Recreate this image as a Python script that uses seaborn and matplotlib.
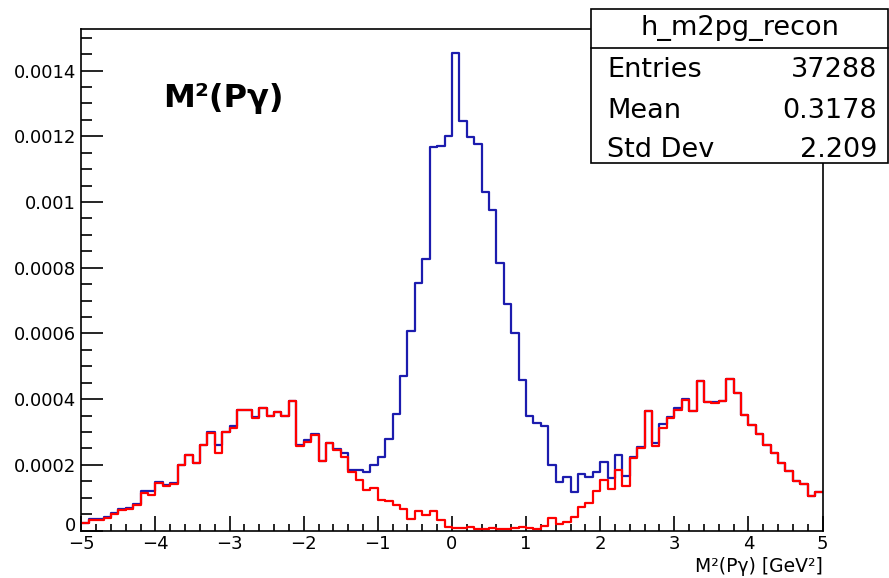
import matplotlib.pyplot as plt
import numpy as np
import pandas as pd
import seaborn as sns
from matplotlib.lines import Line2D
from matplotlib.patches import Rectangle
from matplotlib.ticker import MultipleLocator

# histograma M^2(P gamma): 100 bins de -5 a 5, valores em unidades de 1e-4
x_min, x_max, n_bins = -5.0, 5.0, 100

recon_total = [
    0.24, 0.35, 0.35, 0.41, 0.53, 0.67, 0.70, 0.81, 1.19, 1.19,
    1.49, 1.39, 1.45, 2.00, 2.29, 2.07, 2.60, 3.00, 2.60, 3.00,
    3.18, 3.66, 3.66, 3.47, 3.73, 3.48, 3.60, 3.48, 3.95, 2.60,
    2.77, 2.95, 2.12, 2.67, 2.48, 2.37, 1.83, 1.83, 1.77, 2.01,
    2.25, 2.79, 3.54, 4.72, 6.08, 7.53, 8.26, 11.66, 11.71, 12.01,
    14.53, 12.48, 11.99, 11.76, 10.30, 9.76, 8.14, 6.89, 6.00, 4.58,
    3.50, 3.28, 3.18, 2.00, 1.49, 1.62, 1.18, 1.72, 1.62, 1.77,
    2.08, 1.60, 2.30, 1.65, 2.24, 2.54, 3.65, 2.68, 3.24, 3.47,
    3.72, 4.00, 3.65, 4.55, 3.92, 3.92, 3.95, 4.60, 4.18, 3.52,
    3.21, 2.94, 2.60, 2.37, 2.07, 1.82, 1.52, 1.42, 1.05, 1.18,
]

recon_bkg = [
    0.24, 0.32, 0.33, 0.37, 0.50, 0.63, 0.67, 0.77, 1.13, 1.07,
    1.45, 1.35, 1.42, 2.00, 2.29, 2.07, 2.60, 2.96, 2.36, 3.00,
    3.12, 3.66, 3.66, 3.42, 3.73, 3.48, 3.60, 3.48, 3.95, 2.58,
    2.70, 2.91, 2.11, 2.67, 2.44, 2.25, 1.78, 1.53, 1.25, 1.29,
    0.92, 0.90, 0.78, 0.65, 0.36, 0.60, 0.48, 0.60, 0.32, 0.12,
    0.07, 0.07, 0.10, 0.05, 0.05, 0.07, 0.05, 0.05, 0.07, 0.12,
    0.07, 0.05, 0.14, 0.37, 0.19, 0.25, 0.42, 0.72, 0.83, 1.20,
    1.54, 1.27, 1.84, 1.35, 2.20, 2.52, 3.63, 2.58, 3.13, 3.42,
    3.68, 3.96, 3.65, 4.55, 3.92, 3.87, 3.95, 4.60, 4.18, 3.52,
    3.21, 2.94, 2.60, 2.37, 2.07, 1.82, 1.52, 1.42, 1.05, 1.18,
]

stats_nome = "h_m2pg_recon"
stats_rotulos = ["Entries", "Mean", "Std Dev"]
stats_valores = ["37288", "0.3178", "2.209"]

largura = (x_max - x_min) / n_bins
centros = x_min + largura * (np.arange(n_bins) + 0.5)
df = pd.DataFrame({
    "m2": centros,
    "total": np.array(recon_total) * 1e-4,
    "bkg": np.array(recon_bkg) * 1e-4,
})

sns.set_style("white")
plt.rcParams["font.family"] = ["DejaVu Sans"]
plt.rcParams["text.color"] = "black"
plt.rcParams["xtick.color"] = "black"
plt.rcParams["ytick.color"] = "black"
plt.rcParams["axes.labelcolor"] = "black"

fig = plt.figure(figsize=(8.89, 5.78), dpi=100)
ax = fig.add_axes([0.0915, 0.082, 0.8337, 0.867])

sns.histplot(data=df, x="m2", weights="total", bins=n_bins, binrange=(x_min, x_max),
             element="step", fill=False, color="#1c1cae", linewidth=1.6, ax=ax)
sns.histplot(data=df, x="m2", weights="bkg", bins=n_bins, binrange=(x_min, x_max),
             element="step", fill=False, color="#ff0000", linewidth=1.6, ax=ax)

ax.set_xlim(x_min, x_max)
ax.set_ylim(0, 0.001525)
ax.set_ylabel("")
ax.set_xlabel("M²(Pγ) [GeV²]", loc="right", fontsize=13.5, labelpad=3)

# estilo ROOT: ticks para dentro, so embaixo e na esquerda
ax.xaxis.set_major_locator(MultipleLocator(1))
ax.xaxis.set_minor_locator(MultipleLocator(0.2))
ax.yaxis.set_major_locator(MultipleLocator(0.0002))
ax.yaxis.set_minor_locator(MultipleLocator(0.00005))
# o "0" do eixo y vai a parte, um pouco acima, como no ROOT
ax.yaxis.set_major_formatter(plt.FuncFormatter(lambda v, p: "" if abs(v) < 1e-9 else f"{v:.4f}".rstrip("0")))
ax.annotate("0", xy=(0, 0), xycoords="axes fraction", xytext=(-4, 3),
            textcoords="offset points", ha="right", va="center", fontsize=13)
ax.tick_params(axis="both", which="both", direction="in", bottom=True, left=True,
               top=False, right=False, width=1.2, colors="black")
ax.tick_params(axis="x", which="major", length=10.8, labelsize=13, pad=3)
ax.tick_params(axis="x", which="minor", length=5.4)
ax.tick_params(axis="y", which="major", length=15.8, labelsize=13, pad=4)
ax.tick_params(axis="y", which="minor", length=7.9)
for sp in ax.spines.values():
    sp.set_linewidth(1.2)
    sp.set_color("black")

fig.text(0.1834, 0.8149, "M²(Pγ)", fontsize=23, weight="bold", va="baseline")

# caixa de estatisticas
fig.add_artist(Rectangle((0.6648, 0.7175), 0.334, 0.2664, transform=fig.transFigure,
                         facecolor="white", edgecolor="black", linewidth=1.2, zorder=10))
fig.add_artist(Line2D([0.6648, 0.9988], [0.9175, 0.9175], transform=fig.transFigure,
                      color="black", linewidth=1.2, zorder=11))
fig.text(0.832, 0.9394, stats_nome, fontsize=19.5, ha="center", va="baseline", zorder=12)
for i, (rot, val) in enumerate(zip(stats_rotulos, stats_valores)):
    yy = [0.8668, 0.7958, 0.7284][i]
    fig.text(0.6828, yy, rot, fontsize=19.5, ha="left", va="baseline", zorder=12)
    fig.text(0.9865, yy, val, fontsize=19.5, ha="right", va="baseline", zorder=12)

fig.savefig("out.png", dpi=100)
